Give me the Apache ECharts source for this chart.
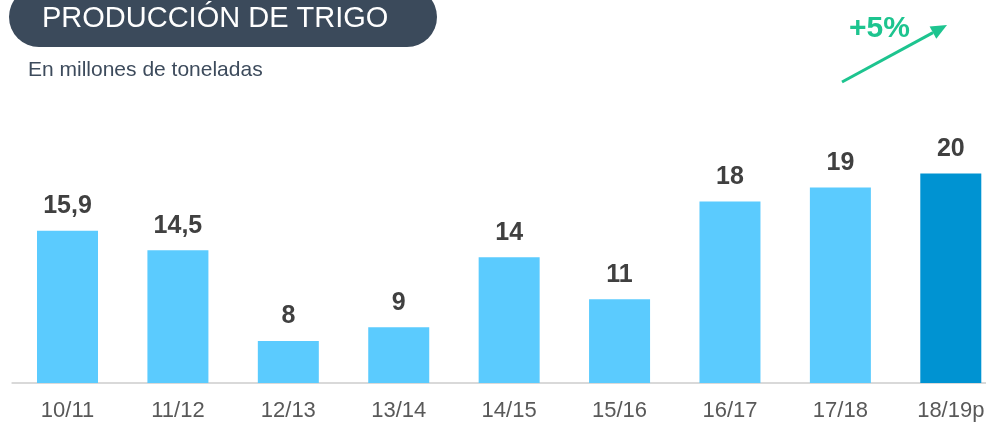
<!DOCTYPE html>
<html>
<head>
<meta charset="utf-8">
<script src="https://cdn.jsdelivr.net/npm/echarts@6/dist/echarts.min.js"></script>
<style>
  html, body { margin: 0; padding: 0; background: #fff; overflow: hidden; }
  #chart { width: 1006px; height: 422px; }
</style>
</head>
<body>
<div id="chart"></div>
<script>
// campañas y produccion (millones de toneladas)
var campanas = ['10/11', '11/12', '12/13', '13/14', '14/15', '15/16', '16/17', '17/18', '18/19p'];
var produccion = [15.9, 14.5, 8, 9, 14, 11, 18, 19, 20];
var proyectada = ['18/19p'];

var FONT = 'Liberation Sans, Arial, sans-serif';

// el grafico original esta recortado a la derecha, por eso el div es mas ancho que la ventana
var chart = echarts.init(document.getElementById('chart'), null, { renderer: 'canvas' });

var barData = produccion.map(function (v, i) {
  return {
    value: v,
    itemStyle: { color: proyectada.indexOf(campanas[i]) >= 0 ? '#0093D2' : '#5BCBFE' }
  };
});

var option = {
  animation: false,
  backgroundColor: '#ffffff',
  grid: { left: 12.3, right: 0, top: 173.5, bottom: 38 },
  xAxis: {
    type: 'category',
    data: campanas,
    axisLine: { lineStyle: { color: '#d9d9d9', width: 2 } },
    axisTick: { show: false },
    axisLabel: { color: '#595959', fontSize: 22, fontFamily: FONT, margin: 17 }
  },
  yAxis: {
    type: 'value',
    min: 5,
    max: 20,
    show: false,
    splitLine: { show: false }
  },
  series: [{
    type: 'bar',
    data: barData,
    barWidth: 61,
    label: {
      show: true,
      position: 'top',
      distance: 12,
      color: '#404040',
      fontSize: 25,
      fontWeight: 'bold',
      fontFamily: FONT,
      formatter: function (p) { return String(p.value).replace('.', ','); }
    }
  }],
  graphic: [
    {
      type: 'rect',
      shape: { x: 9, y: -13, width: 428, height: 60, r: 30 },
      style: { fill: '#3B4A5B' }
    },
    {
      type: 'text',
      x: 42, y: 18.5,
      style: {
        text: 'PRODUCCIÓN DE TRIGO',
        fill: '#ffffff',
        font: 'normal 29px ' + FONT,
        verticalAlign: 'middle'
      }
    },
    {
      type: 'text',
      x: 28, y: 70,
      style: {
        text: 'En millones de toneladas',
        fill: '#3D4B5C',
        font: 'normal 21px ' + FONT,
        verticalAlign: 'middle'
      }
    },
    {
      type: 'text',
      x: 849, y: 29,
      style: {
        text: '+5%',
        fill: '#1DC48F',
        font: 'bold 30px ' + FONT,
        verticalAlign: 'middle'
      }
    },
    {
      type: 'line',
      shape: { x1: 842, y1: 82, x2: 933, y2: 32.6 },
      style: { stroke: '#1DC48F', lineWidth: 3 }
    },
    {
      type: 'polygon',
      shape: { points: [[947, 25], [936.3, 38.8], [929.6, 26.5]] },
      style: { fill: '#1DC48F' }
    }
  ]
};

chart.setOption(option);
</script>
</body>
</html>
